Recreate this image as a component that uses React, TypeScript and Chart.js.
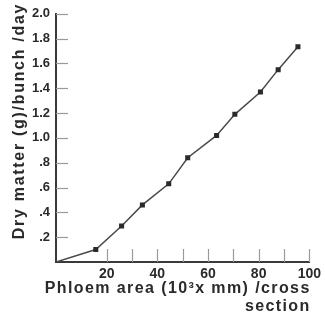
import React, { useEffect, useRef } from "react";
import { Chart, registerables } from "chart.js";

Chart.register(...registerables);

const phloemArea = [0, 15.7, 25.9, 34.1, 44.5, 52.0, 63.4, 70.6, 80.7, 87.7, 95.5];
const dryMatter = [0, 0.1, 0.29, 0.46, 0.63, 0.84, 1.02, 1.19, 1.37, 1.55, 1.735];
const xTickLabels: Record<number, string> = { 20: "20", 40: "40", 60: "60", 80: "80", 100: "100" };
const yTickLabels = ["", ".2", ".4", ".6", ".8", "1.0", "1.2", "1.4", "1.6", "1.8", "2.0"];
const xMinorTicks = [20, 30, 40, 50, 60, 70, 80, 90, 100];
const yMinorTicks = [0.2, 0.4, 0.6, 0.8, 1.0, 1.2, 1.4, 1.6, 1.8, 2.0];
const yTitle = "Dry matter (g)/bunch /day";
const xTitle = ["Phloem area (10³x mm) /cross", "section"];

const FONT = "'Liberation Sans', Arial, sans-serif";

const decorPlugin = {
  id: "decor",
  afterDraw(chart: any) {
    const ctx = chart.ctx;
    const xs = chart.scales.x;
    const ys = chart.scales.y;
    const area = chart.chartArea;
    ctx.save();
    ctx.strokeStyle = "#9a9a9a";
    ctx.lineWidth = 1.2;
    xMinorTicks.forEach((v) => {
      const px = Math.round(xs.getPixelForValue(v)) + 0.5;
      ctx.beginPath();
      ctx.moveTo(px, area.bottom);
      ctx.lineTo(px, area.bottom - 13);
      ctx.stroke();
    });
    yMinorTicks.forEach((v) => {
      const py = Math.round(ys.getPixelForValue(v)) + 0.5;
      ctx.beginPath();
      ctx.moveTo(area.left, py);
      ctx.lineTo(area.left + 12, py);
      ctx.stroke();
    });
    ctx.fillStyle = "#2a2a2a";
    ctx.font = `bold 16px ${FONT}`;
    (ctx as any).letterSpacing = "1.7px";
    ctx.textAlign = "center";
    ctx.textBaseline = "middle";
    ctx.translate(20, 121);
    ctx.rotate(-Math.PI / 2);
    ctx.fillText(yTitle, 0, 0);
    ctx.restore();
    ctx.save();
    ctx.fillStyle = "#2a2a2a";
    ctx.font = `bold 16px ${FONT}`;
    (ctx as any).letterSpacing = "1.4px";
    ctx.textAlign = "right";
    ctx.textBaseline = "middle";
    ctx.fillText(xTitle[0], area.right + 1.4, 289);
    ctx.fillText(xTitle[1], area.right + 1.4, 307);
    ctx.restore();
  },
};

export default function App() {
  const ref = useRef<HTMLCanvasElement>(null);
  useEffect(() => {
    if (!ref.current) return;
    const chart = new Chart(ref.current, {
      type: "line",
      data: {
        datasets: [
          {
            data: phloemArea.map((x, i) => ({ x, y: dryMatter[i] })),
            borderColor: "#4a4a4a",
            borderWidth: 1.5,
            backgroundColor: "#2a2a2a",
            pointBackgroundColor: "#2a2a2a",
            pointBorderColor: "#2a2a2a",
            pointStyle: "rect",
            pointRadius: phloemArea.map((_, i) => (i === 0 ? 0 : 2.5)),
            tension: 0,
          },
        ],
      },
      options: {
        responsive: false,
        animation: false,
        layout: { padding: { left: 0, top: 13, right: 15, bottom: 0 } },
        plugins: { legend: { display: false }, tooltip: { enabled: false } },
        scales: {
          x: {
            type: "linear",
            min: 0,
            max: 100,
            afterFit: (s: any) => {
              s.height = 55;
            },
            grid: { display: false, drawTicks: false },
            border: { display: true, color: "#3a3a3a", width: 2 },
            ticks: {
              stepSize: 10,
              autoSkip: false,
              maxRotation: 0,
              padding: 4,
              color: "#2a2a2a",
              font: { family: FONT, size: 14, weight: "bold" },
              callback: (v: any) => xTickLabels[Math.round(Number(v))] ?? "",
            },
          },
          y: {
            type: "linear",
            min: 0,
            max: 2.0,
            afterFit: (s: any) => {
              s.width = 56;
            },
            grid: { display: false, drawTicks: false },
            border: { display: true, color: "#3a3a3a", width: 2 },
            ticks: {
              stepSize: 0.2,
              autoSkip: false,
              padding: 6,
              color: "#2a2a2a",
              font: { family: FONT, size: 13, weight: "bold" },
              callback: (v: any) => yTickLabels[Math.round(Number(v) * 5)] ?? "",
            },
          },
        },
      },
      plugins: [decorPlugin],
    });
    return () => chart.destroy();
  }, []);
  return (
    <div style={{ position: "absolute", left: 0, top: 0, width: 325, height: 317, background: "#fff" }}>
      <canvas ref={ref} width={325} height={317} style={{ display: "block" }} />
    </div>
  );
}
